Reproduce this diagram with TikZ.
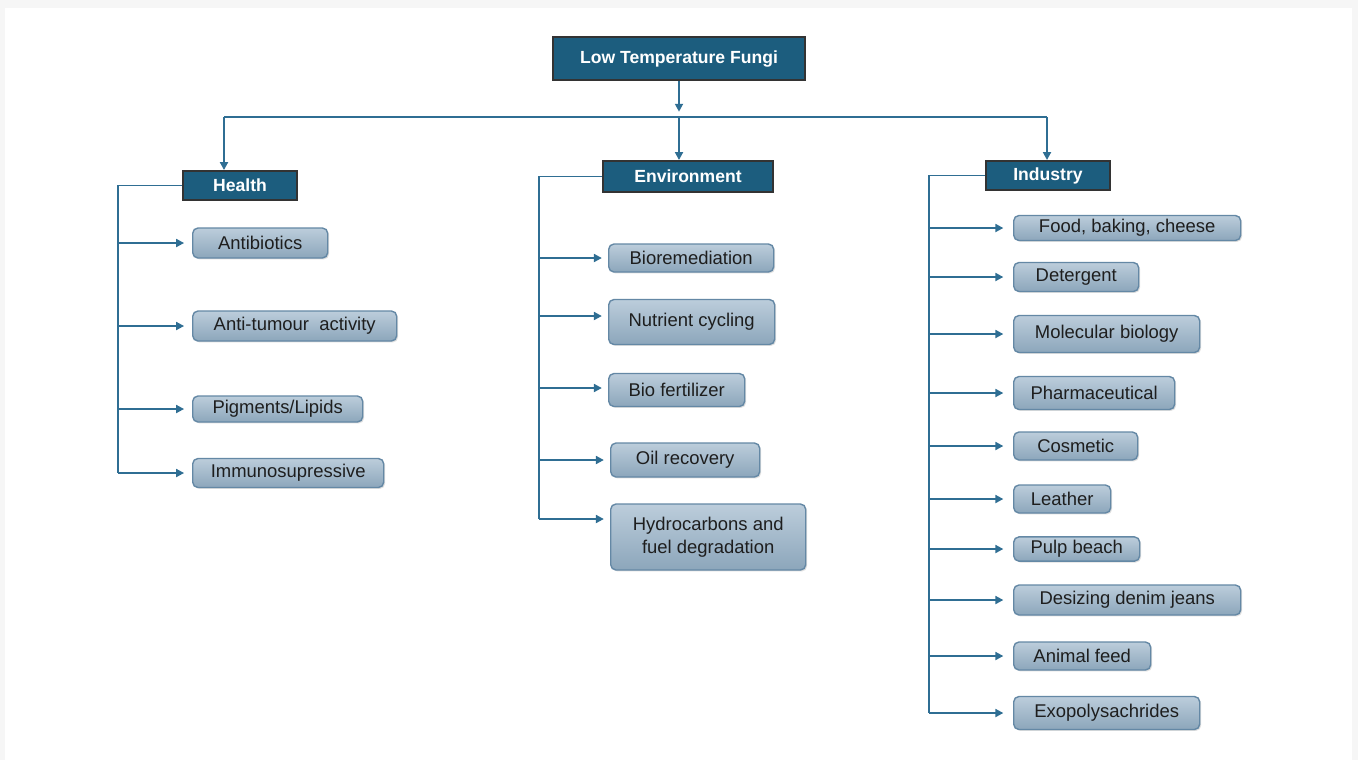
\documentclass[tikz,border=0pt]{standalone}
\usepackage{fontspec}
\setmainfont{Liberation Sans}
\usetikzlibrary{arrows.meta, positioning, shadows}
\definecolor{cnavy}{HTML}{1C5D7E}
\definecolor{cline}{HTML}{2F6E93}
\definecolor{cboxtop}{HTML}{BCCDDB}
\definecolor{cboxbot}{HTML}{8CA6BB}
\definecolor{cboxedge}{HTML}{6488A5}
\definecolor{ctext}{HTML}{1E1E1E}
\definecolor{cpage}{HTML}{F6F6F6}
\tikzset{
  every picture/.style={line width=1.1pt},
  head/.style={draw=black!80, fill=cnavy, text=white, font=\fontsize{10}{12}\selectfont\bfseries, inner sep=2pt,
    drop shadow={opacity=0.25, shadow xshift=0.8pt, shadow yshift=-0.8pt}},
  leaf/.style={draw=cboxedge, top color=cboxtop, bottom color=cboxbot, rounded corners=3pt, text=ctext,
    font=\fontsize{10.5}{13}\selectfont, align=center, inner sep=2pt, line width=0.8pt,
    drop shadow={opacity=0.25, shadow xshift=0.8pt, shadow yshift=-0.8pt}},
  link/.style={draw=cline},
  arr/.style={link, -{Triangle[length=4.5pt, width=4.5pt]}},
}
\begin{document}
\begin{tikzpicture}
  \useasboundingbox (0,0) rectangle (27.16,-15.2);
  \fill[cpage] (0,0) rectangle (27.16,-15.2);
  \fill[white] (0.10,-0.16) rectangle (27.04,-15.2);

  \node[head, minimum width=5.04cm, minimum height=0.86cm] (fungi) at (13.58,-1.17) {Low Temperature Fungi};
  \node[head, minimum width=2.28cm, minimum height=0.58cm] (health) at (4.80,-3.71) {Health};
  \node[head, minimum width=3.40cm, minimum height=0.62cm] (env) at (13.76,-3.53) {Environment};
  \node[head, minimum width=2.48cm, minimum height=0.58cm] (ind) at (20.96,-3.51) {Industry};

  \coordinate (busl) at (4.48,-2.34);
  \coordinate (busm) at (13.58,-2.34);
  \coordinate (busr) at (20.94,-2.34);
  \draw[arr, shorten >=3pt] (fungi) -- (busm);
  \draw[link] (busl) -- (busr);
  \draw[arr] (busl) -- (busl |- health.north);
  \draw[arr] (busm) -- (busm |- env.north);
  \draw[arr] (busr) -- (busr |- ind.north);

  \foreach \n/\t/\y/\w/\h in {h1/Antibiotics/-4.86/2.70/0.60, h2/{Anti-tumour~ activity}/-6.52/4.08/0.60,
      h3/Pigments\slash Lipids/-8.18/3.40/0.52, h4/Immunosupressive/-9.46/3.82/0.58}
    \node[leaf, anchor=west, minimum width=\w cm, minimum height=\h cm] (\n) at (3.84,\y) {\t};
  \coordinate (hbus) at (2.36,-9.46);
  \draw[link] (health.west) -| (hbus);
  \foreach \n in {h1,h2,h3,h4}
    \draw[arr, shorten >=4.5pt] (hbus |- \n.west) -- (\n.west);

  \foreach \n/\t/\y/\w/\h in {e1/Bioremediation/-5.16/3.30/0.56, e2/Nutrient cycling/-6.44/3.32/0.90,
      e3/Bio fertilizer/-7.80/2.72/0.66}
    \node[leaf, anchor=west, minimum width=\w cm, minimum height=\h cm] (\n) at (12.16,\y) {\t};
  \foreach \n/\t/\y/\w/\h in {e4/Oil recovery/-9.20/2.98/0.68, e5/{Hydrocarbons and\\fuel degradation}/-10.74/3.90/1.32}
    \node[leaf, anchor=west, minimum width=\w cm, minimum height=\h cm] (\n) at (12.20,\y) {\t};
  \coordinate (ebus) at (10.78,-10.38);
  \draw[link] (env.west) -| (ebus);
  \foreach \n/\a in {e1/0, e2/0.12, e3/0.04, e4/0, e5/0.36}
    \draw[arr, shorten >=3.5pt] ([yshift=\a cm]ebus |- \n.west) -- ([yshift=\a cm]\n.west);

  \foreach \n/\t/\y/\w/\h in {i1/{Food, baking, cheese}/-4.56/4.54/0.50, i2/Detergent/-5.54/2.50/0.58,
      i3/Molecular biology/-6.68/3.72/0.74, i4/Pharmaceutical/-7.86/3.22/0.66, i5/Cosmetic/-8.92/2.48/0.56,
      i6/Leather/-9.98/1.94/0.56, i7/Pulp beach/-10.98/2.52/0.48, i8/Desizing denim jeans/-12.00/4.54/0.60,
      i9/Animal feed/-13.12/2.74/0.56, i10/Exopolysachrides/-14.26/3.72/0.66}
    \node[leaf, anchor=west, minimum width=\w cm, minimum height=\h cm] (\n) at (20.26,\y) {\t};
  \coordinate (ibus) at (18.58,-14.26);
  \draw[link] (ind.west) -| (ibus);
  \foreach \n in {i1,i2,i3,i4,i5,i6,i7,i8,i9,i10}
    \draw[arr, shorten >=5.5pt] (ibus |- \n.west) -- (\n.west);
\end{tikzpicture}
\end{document}
